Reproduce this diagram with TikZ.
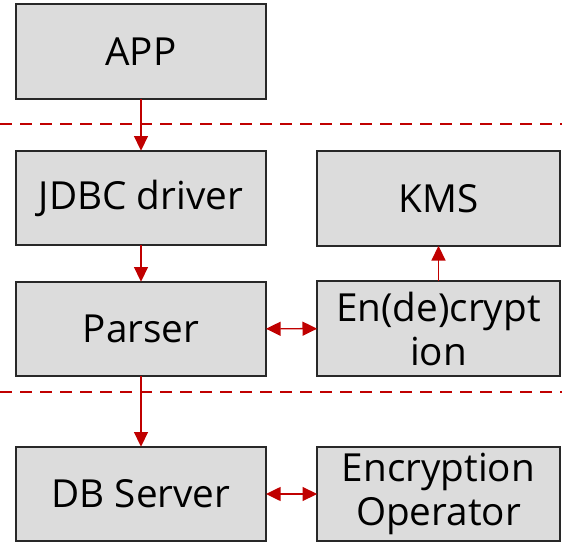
\documentclass[tikz,border=0pt]{standalone}
\usepackage{fontspec}
\setmainfont{Open Sans}
\usetikzlibrary{arrows.meta}

\begin{document}
\begin{tikzpicture}[x=0.75pt,y=0.75pt,yscale=-1,xscale=1,
  box/.style={draw={rgb,255:red,40;green,40;blue,40}, fill={rgb,255:red,220;green,220;blue,220},
    line width=1.5pt, inner sep=0pt, outer sep=0pt, minimum width=187.5pt, minimum height=71pt,
    align=center, font=\fontsize{29}{33}\selectfont},
  wide/.style={minimum width=182pt},
  flow/.style={draw={rgb,255:red,192;green,0;blue,0}, line width=1.1pt,
    -{Triangle[length=11pt,width=10.5pt]}},
  both/.style={flow, {Triangle[length=11pt,width=10.5pt]}-{Triangle[length=11pt,width=10.5pt]}},
  border/.style={draw={rgb,255:red,192;green,0;blue,0}, line width=1.5pt, dash pattern=on 9pt off 6pt}]
\useasboundingbox (0,0) rectangle (562,543);

%Shape: Rectangle [id:app]
\node [box] (app) at (141,51.5) {APP};
%Shape: Rectangle [id:jdbc]
\node [box] (jdbc) at (141,198) {JDBC driver};
%Shape: Rectangle [id:kms]
\node [box, wide] (kms) at (438.5,198.5) {KMS};
%Shape: Rectangle [id:parser]
\node [box] (parser) at (141,329) {Parser};
%Shape: Rectangle [id:endec]
\node [box, wide] (endec) at (438.5,328.5) {En(de)crypt\\ion};
%Shape: Rectangle [id:dbserver]
\node [box] (dbserver) at (141,494) {DB Server};
%Shape: Rectangle [id:encop]
\node [box, wide] (encop) at (438.5,494) {Encryption\\Operator};

%Straight Lines [id:borders]
\draw [border] (0,124) -- (562,124);
\draw [border] (0,392) -- (562,392);

%Straight Lines [id:arrows]
\draw [flow] (app) -- (jdbc);
\draw [flow] (jdbc) -- (parser);
\draw [flow] (parser) -- (dbserver);
\draw [flow] (endec) -- (kms);
\draw [both] (parser) -- (endec);
\draw [both] (dbserver) -- (encop);

\end{tikzpicture}
\end{document}
